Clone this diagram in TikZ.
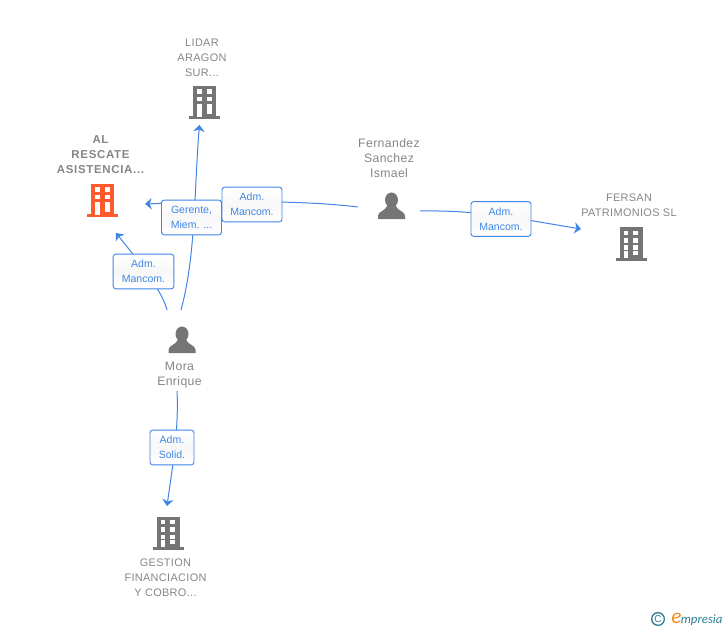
\documentclass[tikz,border=0pt]{standalone}
\usepackage{fontspec}
\setmainfont{Liberation Sans}
\newfontfamily\logofont{Carlito}
\usetikzlibrary{arrows.meta}
\definecolor{linkblue}{HTML}{3F86E6}
\definecolor{namegray}{HTML}{858585}
\definecolor{icongray}{HTML}{757575}
\definecolor{mainorange}{HTML}{FF5A2B}
\definecolor{logoteal}{HTML}{2F7F95}
\definecolor{logoorange}{HTML}{F58A1F}
\tikzset{
  link/.style={draw=linkblue, line width=0.75pt, -{Stealth[inset=1.5pt,length=5pt,width=8.5pt]}},
  rolebox/.style={draw=linkblue, line width=0.7pt, rounded corners=2pt, top color=white, bottom color=white, middle color=black!3,
     text=linkblue, font=\fontsize{7.9}{11.2}\selectfont, align=center, inner sep=0pt},
  namelabel/.style={text=namegray, font=\addfontfeature{LetterSpace=3}\fontsize{8.2}{11.2}\selectfont, align=center, inner sep=0pt},
  personlabel/.style={namelabel, font=\addfontfeature{LetterSpace=3}\fontsize{9.2}{11.2}\selectfont},
  pics/building/.style={code={
     \fill[#1] (-15.5,14.5) rectangle (15.5,17.5);
     \fill[#1] (-11.5,-16) rectangle (11.5,15);
     \foreach \y in {-12.7,-5.3,2}
       \foreach \x in {-7.5,2.2} \fill[white] (\x,\y) rectangle ++(4.8,4.6);
     \fill[white] (-7.5,7.3) rectangle ++(4.8,7.4);
     \fill[white] (2.2,7.3) rectangle ++(4.8,4.6);
  }},
  pics/person/.style={code={
     \fill[icongray] (0,-5.5) ellipse (6.5 and 7.5);
     \fill[icongray] (-13.5,13.7) -- (-13.5,10) .. controls (-13,5.5) and (-6,5.5) .. (-4,0) -- (4,0) .. controls (6,5.5) and (13,5.5) .. (13.5,10) -- (13.5,13.7) -- cycle;
  }}
}
\begin{document}
\begin{tikzpicture}[x=0.75pt,y=-0.75pt]
   \useasboundingbox (0,0) rectangle (728,630);
   % Free ends of the connectors
   \coordinate (fsleft) at (358,207);
   \coordinate (fsright) at (420,211);
   \coordinate (moraleft) at (167,310);
   \coordinate (moramid) at (181,310);
   \coordinate (moradown) at (177,391);
   \coordinate (tiplidar) at (199.5,125);
   \coordinate (tiprescate) at (145,204);
   \coordinate (tipmancom) at (116,233);
   \coordinate (tipfersan) at (581,229);
   \coordinate (tipgestion) at (167,506);

   % Connectors, under the boxes
   \draw [link] (fsleft) .. controls (300,200) and (220,201) .. (tiprescate);
   \draw [link] (moramid) .. controls (196,255) and (194,190) .. (tiplidar);
   \draw [link] (moraleft) .. controls (163,295) and (150,275) .. (tipmancom);
   \draw [link] (fsright) .. controls (480,210) and (520,219) .. (tipfersan);
   \draw [link] (moradown) .. controls (179,430) and (172,470) .. (tipgestion);

   % Role boxes
   \node[rolebox, minimum width=45pt, minimum height=26pt] (boxgerente) at (191.5,217.5) {Gerente,\\Miem. ...};
   \node[rolebox, minimum width=45pt, minimum height=26pt] (boxfs) at (252,204.5) {Adm.\\Mancom.};
   \node[rolebox, minimum width=45.5pt, minimum height=26pt] (boxmora) at (143.5,271.5) {Adm.\\Mancom.};
   \node[rolebox, minimum width=45pt, minimum height=26pt] (boxfersan) at (501,219) {Adm.\\Mancom.};
   \node[rolebox, minimum width=33pt, minimum height=26pt] (boxsolid) at (172,447.5) {Adm.\\Solid.};

   % Companies
   \pic at (204.5,102) {building=icongray};
   \pic at (102.5,200) {building=mainorange};
   \pic at (631,243.5) {building=icongray};
   \pic at (168,532.5) {building=icongray};

   % People
   \pic at (182,339.5) {person};
   \pic at (391.5,205.5) {person};

   % Names
   \node[namelabel] (lidar) at (202,57.5) {LIDAR\\ARAGON\\SUR...};
   \node[namelabel, font=\bfseries\addfontfeature{LetterSpace=6}\fontsize{8.6}{11.2}\selectfont] (rescate) at (100.5,154.5) {AL\\RESCATE\\ASISTENCIA...};
   \node[personlabel] (fernandez) at (389,158.5) {Fernandez\\Sanchez\\Ismael};
   \node[personlabel] (mora) at (179.5,375) {Mora\\Enrique};
   \node[namelabel] (fersan) at (629,205.5) {FERSAN\\PATRIMONIOS SL};
   \node[namelabel] (gestion) at (165.5,577.5) {GESTION\\FINANCIACION\\Y COBRO...};

   % Logo
   \node[circle, draw=logoteal, line width=1pt, text=logoteal, inner sep=0pt, minimum size=9.5pt, font=\fontsize{7.5}{7.5}\selectfont] (logoc) at (658,619) {C};
   \node[text=logoteal, inner sep=0pt, anchor=west, font=\logofont\itshape\fontsize{9.6}{9.6}\selectfont] (logo) at (671,619) {\textcolor{logoorange}{\fontsize{16}{16}\selectfont e}\kern-0.5pt mpresia};
\end{tikzpicture}
\end{document}
